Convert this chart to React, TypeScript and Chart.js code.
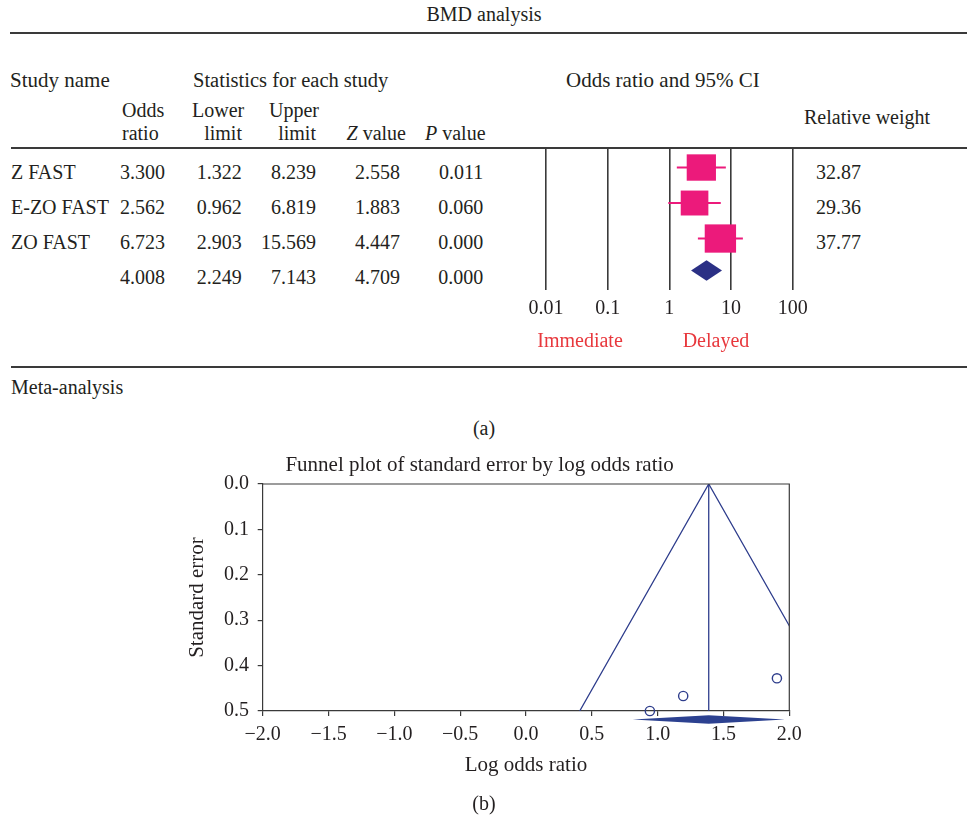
import React, { useEffect, useRef } from 'react';
import { Chart, registerables } from 'chart.js';

Chart.register(...registerables);

const FONT = '"Liberation Serif", "Times New Roman", serif';
const INK = '#231f20';
const RULE = '#3a3a3a';
const PINK = '#ec1a7b';
const NAVY = '#2e3d8c';
const DIAMOND_FOREST = '#2b3085';
const DIAMOND_FUNNEL = '#2c4190';
const RED = '#e8383d';

// ---- Forest plot data (a) ----
const studyNames = ['Z FAST', 'E-ZO FAST', 'ZO FAST'];
const oddsRatio = [3.3, 2.562, 6.723];
const lowerLimit = [1.322, 0.962, 2.903];
const upperLimit = [8.239, 6.819, 15.569];
const zValue = [2.558, 1.883, 4.447];
const pValue = [0.011, 0.06, 0.0];
const relativeWeight = [32.87, 29.36, 37.77];
const summaryOR = 4.008;
const summaryLower = 2.249;
const summaryUpper = 7.143;
const summaryZ = 4.709;
const summaryP = 0.0;
const forestRows = [0, 1, 2];
const summaryRow = 2.9;
const forestTicks = [0.01, 0.1, 1, 10, 100];
const forestTickLabels = ['0.01', '0.1', '1', '10', '100'];

// ---- Funnel plot data (b) ----
const funnelLogOR = [1.194, 0.941, 1.906];
const funnelSE = [0.467, 0.5, 0.428];
const summaryLogOR = 1.388;
const summaryLogLower = 0.811;
const summaryLogUpper = 1.966;
const funnelLimitX = [0.408, 1.388, 2.368];
const funnelLimitY = [0.5, 0.0, 0.5];
const funnelXTicks = [-2.0, -1.5, -1.0, -0.5, 0.0, 0.5, 1.0, 1.5, 2.0];
const funnelYTicks = [0.0, 0.1, 0.2, 0.3, 0.4, 0.5];

type TxtProps = { x: number; y: number; align?: 'left' | 'right' | 'center'; size?: number; color?: string; children: React.ReactNode };
const Txt = ({ x, y, align = 'left', size = 20, color = INK, children }: TxtProps) => (
  <div
    style={{
      position: 'absolute',
      left: x,
      top: y - 12,
      lineHeight: '24px',
      fontSize: size,
      color,
      whiteSpace: 'nowrap',
      transform: align === 'right' ? 'translateX(-100%)' : align === 'center' ? 'translateX(-50%)' : undefined,
    }}
  >
    {children}
  </div>
);

const HLine = ({ x1, x2, y, w = 1.5 }: { x1: number; x2: number; y: number; w?: number }) => (
  <div style={{ position: 'absolute', left: x1, top: y - w / 2, width: x2 - x1, height: w, background: RULE }} />
);

const fmtSigned = (v: number) => (v < 0 ? '\u2212' : '') + Math.abs(v).toFixed(1);

export default function App() {
  const forestRef = useRef<HTMLCanvasElement | null>(null);
  const funnelRef = useRef<HTMLCanvasElement | null>(null);

  useEffect(() => {
    const forestMarks = {
      id: 'forestMarks',
      afterDatasetsDraw(chart: any) {
        const { ctx, scales } = chart;
        const x = scales.x;
        const y = scales.y;
        ctx.save();
        ctx.fillStyle = PINK;
        oddsRatio.forEach((or, i) => {
          const cx = x.getPixelForValue(or);
          const cy = y.getPixelForValue(forestRows[i]);
          const w = 5.1 * Math.sqrt(relativeWeight[i]);
          const h = 4.6 * Math.sqrt(relativeWeight[i]);
          ctx.fillRect(cx - w / 2, cy - h / 2, w, h);
        });
        const l = x.getPixelForValue(summaryLower);
        const c = x.getPixelForValue(summaryOR);
        const r = x.getPixelForValue(summaryUpper);
        const cy = y.getPixelForValue(summaryRow);
        ctx.fillStyle = DIAMOND_FOREST;
        ctx.beginPath();
        ctx.moveTo(l, cy);
        ctx.lineTo(c, cy - 10.3);
        ctx.lineTo(r, cy);
        ctx.lineTo(c, cy + 10.3);
        ctx.closePath();
        ctx.fill();
        ctx.restore();
      },
    };

    const forest = new Chart(forestRef.current as HTMLCanvasElement, {
      type: 'scatter',
      data: {
        datasets: studyNames.map((name, i) => ({
          label: name,
          data: [
            { x: lowerLimit[i], y: forestRows[i] },
            { x: upperLimit[i], y: forestRows[i] },
          ],
          showLine: true,
          borderColor: PINK,
          borderWidth: 2,
          pointRadius: 0,
          clip: false as any,
        })),
      },
      options: {
        animation: false,
        responsive: false,
        events: [],
        layout: { padding: { left: 46, right: 37.3, top: 0, bottom: 0 } },
        plugins: { legend: { display: false }, tooltip: { enabled: false } },
        scales: {
          x: {
            type: 'logarithmic',
            min: forestTicks[0],
            max: forestTicks[forestTicks.length - 1],
            afterBuildTicks: (s: any) => {
              s.ticks = forestTicks.map((v) => ({ value: v }));
            },
            afterFit: (s: any) => {
              s.height = 40;
            },
            ticks: {
              callback: (_v: any, i: number) => forestTickLabels[i],
              font: { family: FONT, size: 20 },
              color: INK,
              padding: 7,
              maxRotation: 0,
              autoSkip: false,
            },
            grid: { color: RULE, lineWidth: 1.6, drawTicks: false },
            border: { display: false },
          },
          y: { type: 'linear', min: -0.55, max: 3.45, reverse: true, display: false },
        },
      } as any,
      plugins: [forestMarks],
    });

    const funnelMarks = {
      id: 'funnelMarks',
      afterDatasetsDraw(chart: any) {
        const { ctx, chartArea, scales } = chart;
        const x = scales.x;
        ctx.save();
        ctx.strokeStyle = RULE;
        ctx.lineWidth = 1.2;
        ctx.beginPath();
        ctx.moveTo(chartArea.left, chartArea.top);
        ctx.lineTo(chartArea.right, chartArea.top);
        ctx.lineTo(chartArea.right, chartArea.bottom);
        ctx.stroke();
        const l = x.getPixelForValue(summaryLogLower);
        const c = x.getPixelForValue(summaryLogOR);
        const r = x.getPixelForValue(summaryLogUpper);
        const cy = chartArea.bottom + 8.5;
        ctx.fillStyle = DIAMOND_FUNNEL;
        ctx.beginPath();
        ctx.moveTo(l, cy);
        ctx.lineTo(c, cy - 4.2);
        ctx.lineTo(r, cy);
        ctx.lineTo(c, cy + 4.2);
        ctx.closePath();
        ctx.fill();
        ctx.restore();
      },
    };

    const funnel = new Chart(funnelRef.current as HTMLCanvasElement, {
      type: 'scatter',
      data: {
        datasets: [
          {
            label: 'Pseudo 95% limits',
            data: funnelLimitX.map((x, i) => ({ x, y: funnelLimitY[i] })),
            showLine: true,
            borderColor: NAVY,
            borderWidth: 1.3,
            pointRadius: 0,
          },
          {
            label: 'Combined effect',
            data: [
              { x: summaryLogOR, y: funnelYTicks[0] },
              { x: summaryLogOR, y: funnelYTicks[funnelYTicks.length - 1] },
            ],
            showLine: true,
            borderColor: NAVY,
            borderWidth: 1.3,
            pointRadius: 0,
          },
          {
            label: 'Studies',
            data: funnelLogOR.map((x, i) => ({ x, y: funnelSE[i] })),
            pointStyle: 'circle',
            pointRadius: 4.6,
            borderColor: NAVY,
            backgroundColor: 'rgba(255,255,255,0)',
            borderWidth: 1.4,
            clip: false as any,
          },
        ],
      },
      options: {
        animation: false,
        responsive: false,
        events: [],
        layout: { padding: { left: 0, right: 20.7, top: 0, bottom: 29 } },
        plugins: {
          legend: { display: false },
          tooltip: { enabled: false },
          title: {
            display: true,
            text: 'Funnel plot of standard error by log odds ratio',
            font: { family: FONT, size: 21, weight: 'normal' },
            color: INK,
            padding: { top: 13, bottom: 5.8 },
          },
        },
        scales: {
          x: {
            type: 'linear',
            min: funnelXTicks[0],
            max: funnelXTicks[funnelXTicks.length - 1],
            afterBuildTicks: (s: any) => {
              s.ticks = funnelXTicks.map((v) => ({ value: v }));
            },
            afterFit: (s: any) => {
              s.height = 80;
            },
            ticks: {
              callback: (v: any) => fmtSigned(Number(v)),
              font: { family: FONT, size: 20 },
              color: INK,
              padding: 7,
              maxRotation: 0,
              autoSkip: false,
            },
            grid: { drawOnChartArea: false, drawTicks: true, tickLength: 5, color: RULE, lineWidth: 1.2 },
            border: { display: true, color: RULE, width: 1.2 },
            title: {
              display: true,
              text: 'Log odds ratio',
              font: { family: FONT, size: 21, weight: 'normal' },
              color: INK,
              padding: { top: 0, bottom: 13 },
            },
          },
          y: {
            type: 'linear',
            min: funnelYTicks[0],
            max: funnelYTicks[funnelYTicks.length - 1],
            reverse: true,
            afterBuildTicks: (s: any) => {
              s.ticks = funnelYTicks.map((v) => ({ value: v }));
            },
            afterFit: (s: any) => {
              s.width = 92.7;
            },
            ticks: {
              callback: (v: any) => Number(v).toFixed(1),
              font: { family: FONT, size: 20 },
              color: INK,
              padding: 8.7,
              autoSkip: false,
            },
            grid: { drawOnChartArea: false, drawTicks: true, tickLength: 5, color: RULE, lineWidth: 1.2 },
            border: { display: true, color: RULE, width: 1.2 },
            title: {
              display: true,
              text: 'Standard error',
              font: { family: FONT, size: 21, weight: 'normal' },
              color: INK,
              padding: { top: 15, bottom: 0 },
            },
          },
        },
      } as any,
      plugins: [funnelMarks],
    });

    return () => {
      forest.destroy();
      funnel.destroy();
    };
  }, []);

  const colRight = [165, 241.7, 316, 400, 483.3];
  const rowY = [171.7, 206.7, 241.7];
  const summaryY = 276.7;

  return (
    <div
      style={{
        position: 'absolute',
        left: 0,
        top: 0,
        width: 967,
        height: 820,
        background: '#fff',
        overflow: 'hidden',
        fontFamily: FONT,
        color: INK,
      }}
    >
      <Txt x={484} y={14} align="center">BMD analysis</Txt>
      <HLine x1={10} x2={967} y={33} w={2} />

      <Txt x={10} y={80} size={21}>Study name</Txt>
      <Txt x={193} y={80} size={20.5}>Statistics for each study</Txt>
      <Txt x={566} y={80} size={21}>Odds ratio and 95% CI</Txt>

      <Txt x={122} y={110}>Odds</Txt>
      <Txt x={122} y={133}>ratio</Txt>
      <Txt x={192} y={110}>Lower</Txt>
      <Txt x={242} y={133} align="right">limit</Txt>
      <Txt x={269} y={110}>Upper</Txt>
      <Txt x={316} y={133} align="right">limit</Txt>
      <Txt x={406} y={133} align="right"><i>Z</i> value</Txt>
      <Txt x={425} y={133}><i>P</i> value</Txt>
      <Txt x={804} y={117}>Relative weight</Txt>

      <HLine x1={11} x2={967} y={148} w={1.6} />

      {studyNames.map((name, i) => (
        <React.Fragment key={name}>
          <Txt x={11} y={rowY[i]}>{name}</Txt>
          <Txt x={colRight[0]} y={rowY[i]} align="right">{oddsRatio[i].toFixed(3)}</Txt>
          <Txt x={colRight[1]} y={rowY[i]} align="right">{lowerLimit[i].toFixed(3)}</Txt>
          <Txt x={colRight[2]} y={rowY[i]} align="right">{upperLimit[i].toFixed(3)}</Txt>
          <Txt x={colRight[3]} y={rowY[i]} align="right">{zValue[i].toFixed(3)}</Txt>
          <Txt x={colRight[4]} y={rowY[i]} align="right">{pValue[i].toFixed(3)}</Txt>
          <Txt x={816} y={rowY[i]}>{relativeWeight[i].toFixed(2)}</Txt>
        </React.Fragment>
      ))}
      <Txt x={colRight[0]} y={summaryY} align="right">{summaryOR.toFixed(3)}</Txt>
      <Txt x={colRight[1]} y={summaryY} align="right">{summaryLower.toFixed(3)}</Txt>
      <Txt x={colRight[2]} y={summaryY} align="right">{summaryUpper.toFixed(3)}</Txt>
      <Txt x={colRight[3]} y={summaryY} align="right">{summaryZ.toFixed(3)}</Txt>
      <Txt x={colRight[4]} y={summaryY} align="right">{summaryP.toFixed(3)}</Txt>

      <canvas ref={forestRef} width={330} height={182} style={{ position: 'absolute', left: 500, top: 148 }} />

      <Txt x={580} y={340} align="center" color={RED}>Immediate</Txt>
      <Txt x={716} y={340} align="center" color={RED}>Delayed</Txt>

      <HLine x1={11} x2={967} y={367} w={1.6} />
      <Txt x={11} y={387}>Meta-analysis</Txt>
      <Txt x={484} y={428} align="center">(a)</Txt>

      <canvas ref={funnelRef} width={640} height={380} style={{ position: 'absolute', left: 170, top: 440 }} />

      <Txt x={484} y={803} align="center">(b)</Txt>
    </div>
  );
}
